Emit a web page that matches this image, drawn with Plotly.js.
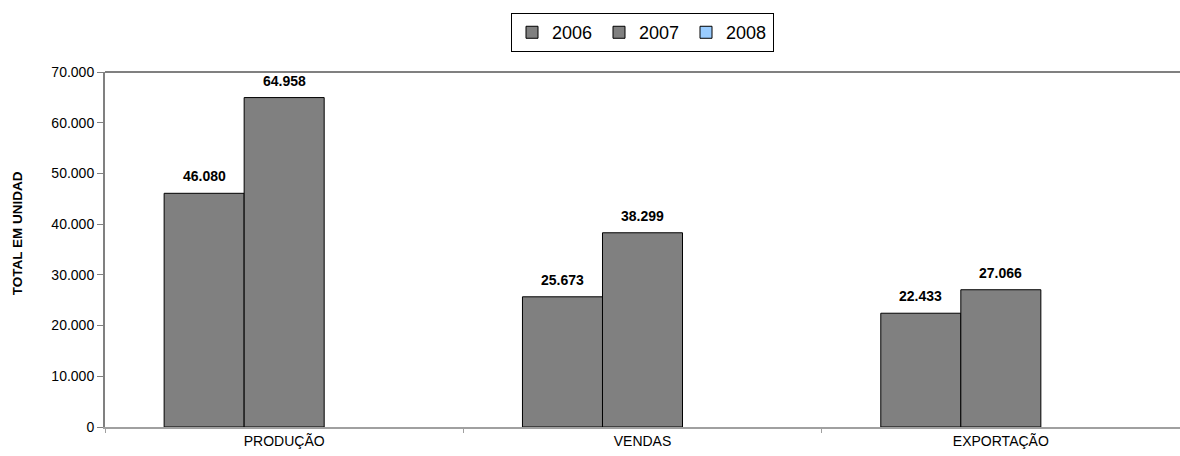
<!DOCTYPE html>
<html>
<head>
<meta charset="utf-8">
<script src="https://cdn.plot.ly/plotly-3.0.1.min.js"></script>
<style>html,body{margin:0;padding:0;background:#fff;}#chart{width:1180px;height:456px;}</style>
</head>
<body>
<div id="chart"></div>
<script>
const categories = ['PRODUÇÃO', 'VENDAS', 'EXPORTAÇÃO'];
const years = ['2006', '2007', '2008'];
const values2006 = [46080, 25673, 22433];
const values2007 = [64958, 38299, 27066];
const values2008 = [null, null, null];
const yTitle = 'TOTAL EM UNIDAD';

function fmt(v) {
  return String(Math.round(v)).replace(/\B(?=(\d{3})+(?!\d))/g, '.');
}

const colors = ['#808080', '#808080', '#99CCFF'];
const series = [values2006, values2007, values2008];

const traces = series.map((vals, i) => ({
  type: 'bar',
  name: years[i],
  x: categories,
  y: vals,
  marker: { color: colors[i], line: { color: '#000000', width: 1 } },
  hoverinfo: 'x+y'
}));

// bar geometry offsets (px) for the label annotations
const barOffsets = [-80, 0, 80];
const annotations = [];
series.forEach((vals, i) => {
  vals.forEach((v, j) => {
    if (v === null) return;
    annotations.push({
      x: categories[j], y: v, xref: 'x', yref: 'y',
      text: '<b>' + fmt(v) + '</b>',
      showarrow: false, xanchor: 'center', yanchor: 'bottom',
      xshift: barOffsets[i], yshift: 7,
      font: { family: 'Liberation Sans, Arial, sans-serif', size: 14, color: '#000' }
    });
  });
});
annotations.push({
  xref: 'paper', yref: 'paper', x: 0, y: 0.546,
  xshift: -88, text: '<b>' + yTitle + '</b>', textangle: -90,
  showarrow: false, xanchor: 'center', yanchor: 'middle',
  font: { family: 'Liberation Sans, Arial, sans-serif', size: 13.5, color: '#000' }
});

const layout = {
  width: 1180, height: 456,
  margin: { l: 105, r: 0, t: 72, b: 29 },
  paper_bgcolor: '#ffffff', plot_bgcolor: '#ffffff',
  font: { family: 'Liberation Sans, Arial, sans-serif', color: '#000' },
  separators: ',.',
  barmode: 'group',
  bargap: 0.33, bargroupgap: 0,
  showlegend: true,
  legend: {
    orientation: 'h', x: 0.5, xanchor: 'center', y: 1.166, yanchor: 'top',
    bordercolor: '#000', borderwidth: 1,
    font: { size: 18, color: '#000' },
    entrywidth: 42, entrywidthmode: 'pixels',
    traceorder: 'normal', itemclick: false
  },
  xaxis: {
    type: 'category',
    showline: true, linecolor: '#a0a0a0', linewidth: 2, mirror: false,
    ticks: 'outside', tickson: 'boundaries', ticklen: 4, tickcolor: '#a0a0a0',
    showgrid: false, zeroline: false,
    tickfont: { size: 14, color: '#000' }
  },
  yaxis: {
    range: [0, 70000], dtick: 10000, tickformat: ',d',
    showline: true, linecolor: '#808080', linewidth: 2,
    ticks: 'outside', ticklen: 6, tickcolor: '#808080',
    showgrid: false, zeroline: false,
    tickfont: { size: 14, color: '#000' }
  },
  shapes: [{
    type: 'line', xref: 'paper', yref: 'paper', x0: 0, x1: 1, y0: 1, y1: 1,
    line: { color: '#808080', width: 2 }
  }],
  annotations: annotations
};

Plotly.newPlot('chart', traces, layout, { staticPlot: true, displayModeBar: false });
</script>
</body>
</html>
